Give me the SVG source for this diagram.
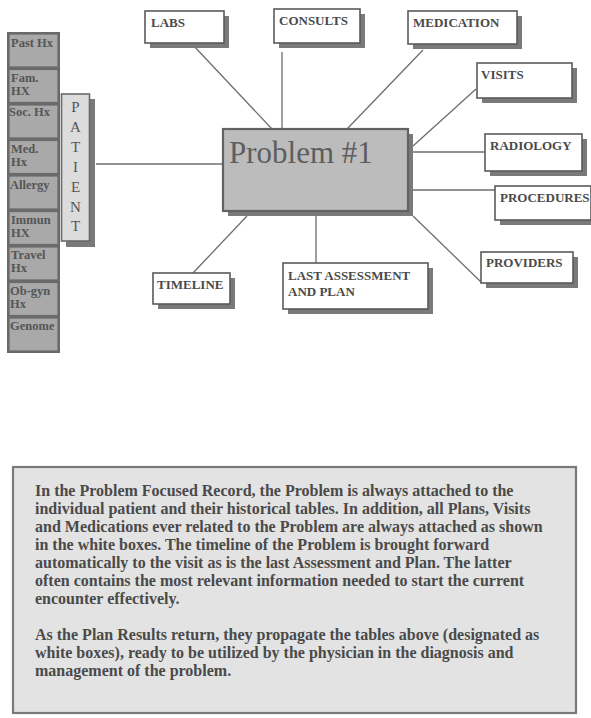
<svg xmlns="http://www.w3.org/2000/svg" width="591" height="718" viewBox="0 0 591 718">
<defs>
<style>
.conn{stroke:#6e6e6e;stroke-width:1.3;fill:none}
.wbox{fill:#ffffff;stroke:#5a5a5a;stroke-width:1.6}
.shadow{fill:#7a7a7a}
.wlbl{font-family:"Liberation Serif","Times New Roman",serif;font-weight:bold;font-size:13px;fill:#4a4a4a}
.cell{fill:#a9a9a9;stroke:#6a6a6a;stroke-width:2.2}
.clbl{font-family:"Liberation Serif","Times New Roman",serif;font-weight:bold;font-size:12.5px;fill:#555555}
.pat{font-family:"Liberation Serif","Times New Roman",serif;font-size:15px;fill:#555555}
.note{font-family:"Liberation Serif","Times New Roman",serif;font-weight:bold;font-size:16px;fill:#4a4a4a}
</style>
</defs>
<rect width="591" height="718" fill="#ffffff"/>

<g id="connectors">
<line class="conn" x1="96" y1="164" x2="223" y2="164"/>
<line class="conn" x1="192" y1="44" x2="272" y2="129"/>
<line class="conn" x1="282" y1="52" x2="282" y2="129"/>
<line class="conn" x1="423" y1="50" x2="347" y2="129"/>
<line class="conn" x1="476" y1="89" x2="413" y2="146"/>
<line class="conn" x1="413" y1="152" x2="485" y2="152"/>
<line class="conn" x1="413" y1="190" x2="495" y2="190"/>
<line class="conn" x1="413" y1="216" x2="481" y2="282"/>
<line class="conn" x1="247" y1="216" x2="193" y2="273"/>
<line class="conn" x1="316" y1="216" x2="316" y2="263"/>
</g>

<g id="history">
<rect x="7" y="32" width="53" height="321" fill="#6a6a6a"/>
<rect class="cell" x="8.5" y="33.5" width="50" height="34"/>
<text class="clbl" x="11" y="47">Past Hx</text>
<rect class="cell" x="8.5" y="69" width="50" height="34"/>
<text class="clbl" x="11" y="82">Fam.</text><text class="clbl" x="11" y="95">HX</text>
<rect class="cell" x="8.5" y="104.5" width="50" height="34"/>
<text class="clbl" x="9" y="116">Soc. Hx</text>
<rect class="cell" x="8.5" y="140" width="50" height="34"/>
<text class="clbl" x="11" y="153">Med.</text><text class="clbl" x="11" y="166">Hx</text>
<rect class="cell" x="8.5" y="175.5" width="50" height="34"/>
<text class="clbl" x="10" y="189">Allergy</text>
<rect class="cell" x="8.5" y="211" width="50" height="34"/>
<text class="clbl" x="11" y="224">Immun</text><text class="clbl" x="11" y="237">HX</text>
<rect class="cell" x="8.5" y="246.5" width="50" height="34"/>
<text class="clbl" x="11" y="259">Travel</text><text class="clbl" x="11" y="272">Hx</text>
<rect class="cell" x="8.5" y="282" width="50" height="34"/>
<text class="clbl" x="10" y="295">Ob-gyn</text><text class="clbl" x="10" y="308">Hx</text>
<rect class="cell" x="8.5" y="317.5" width="50" height="34"/>
<text class="clbl" x="10" y="330">Genome</text>
</g>

<g id="patient">
<rect class="shadow" x="66" y="99" width="29" height="148"/>
<rect x="61.5" y="94" width="28" height="147" fill="#dcdcdc" stroke="#6a6a6a" stroke-width="1.6"/>
<text class="pat" x="75.5" y="112" text-anchor="middle">P</text>
<text class="pat" x="75.5" y="132" text-anchor="middle">A</text>
<text class="pat" x="75.5" y="152" text-anchor="middle">T</text>
<text class="pat" x="75.5" y="172" text-anchor="middle">I</text>
<text class="pat" x="75.5" y="192" text-anchor="middle">E</text>
<text class="pat" x="75.5" y="212" text-anchor="middle">N</text>
<text class="pat" x="75.5" y="231" text-anchor="middle">T</text>
</g>

<g id="problem">
<rect class="shadow" x="228" y="134" width="185" height="82"/>
<rect x="223" y="129" width="185" height="82" fill="#bcbcbc" stroke="#626262" stroke-width="2.2"/>
<text x="229" y="163" font-family="Liberation Serif, Times New Roman, serif" font-size="31" fill="#5e5e5e">Problem #1</text>
</g>

<g id="labs">
<rect class="shadow" x="150" y="16" width="79" height="32"/>
<rect class="wbox" x="145" y="11" width="79" height="32"/>
<text class="wlbl" x="151" y="27">LABS</text>
</g>

<g id="consults">
<rect class="shadow" x="279" y="14" width="86" height="34"/>
<rect class="wbox" x="274" y="9" width="86" height="34"/>
<text class="wlbl" x="279" y="25">CONSULTS</text>
</g>

<g id="medication">
<rect class="shadow" x="413" y="16" width="109" height="33"/>
<rect class="wbox" x="408" y="11" width="109" height="33"/>
<text class="wlbl" x="413" y="27">MEDICATION</text>
</g>

<g id="visits">
<rect class="shadow" x="482" y="68" width="95" height="35"/>
<rect class="wbox" x="477" y="63" width="95" height="35"/>
<text class="wlbl" x="481" y="79">VISITS</text>
</g>

<g id="radiology">
<rect class="shadow" x="490" y="139" width="97" height="37"/>
<rect class="wbox" x="485" y="134" width="97" height="37"/>
<text class="wlbl" x="490" y="150">RADIOLOGY</text>
</g>

<g id="procedures">
<rect class="shadow" x="500" y="191" width="96" height="34"/>
<rect class="wbox" x="495" y="186" width="96" height="34"/>
<text class="wlbl" x="500" y="202">PROCEDURES</text>
</g>

<g id="providers">
<rect class="shadow" x="486" y="257" width="92" height="31"/>
<rect class="wbox" x="481" y="252" width="92" height="31"/>
<text class="wlbl" x="486" y="267">PROVIDERS</text>
</g>

<g id="timeline">
<rect class="shadow" x="158" y="278" width="77" height="31"/>
<rect class="wbox" x="153" y="273" width="77" height="31"/>
<text class="wlbl" x="157" y="289">TIMELINE</text>
</g>

<g id="last-assessment">
<rect class="shadow" x="288" y="268" width="145" height="46"/>
<rect class="wbox" x="283" y="263" width="145" height="46"/>
<text class="wlbl" x="288" y="280">LAST ASSESSMENT</text>
<text class="wlbl" x="288" y="296">AND PLAN</text>
</g>

<g id="note">
<rect x="13" y="467" width="563" height="246" fill="#e3e3e3" stroke="#7a7a7a" stroke-width="2.2"/>
<text class="note" x="35" y="496">In the Problem Focused Record, the Problem is always attached to the</text>
<text class="note" x="35" y="514">individual patient and their historical tables. In addition, all Plans, Visits</text>
<text class="note" x="35" y="532">and Medications ever related to the Problem are always attached as shown</text>
<text class="note" x="35" y="550">in the white boxes. The timeline of the Problem is brought forward</text>
<text class="note" x="35" y="568">automatically to the visit as is the last Assessment and Plan. The latter</text>
<text class="note" x="35" y="586">often contains the most relevant information needed to start the current</text>
<text class="note" x="35" y="604">encounter effectively.</text>
<text class="note" x="35" y="640">As the Plan Results return, they propagate the tables above (designated as</text>
<text class="note" x="35" y="658">white boxes), ready to be utilized by the physician in the diagnosis and</text>
<text class="note" x="35" y="676">management of the problem.</text>
</g>
</svg>
